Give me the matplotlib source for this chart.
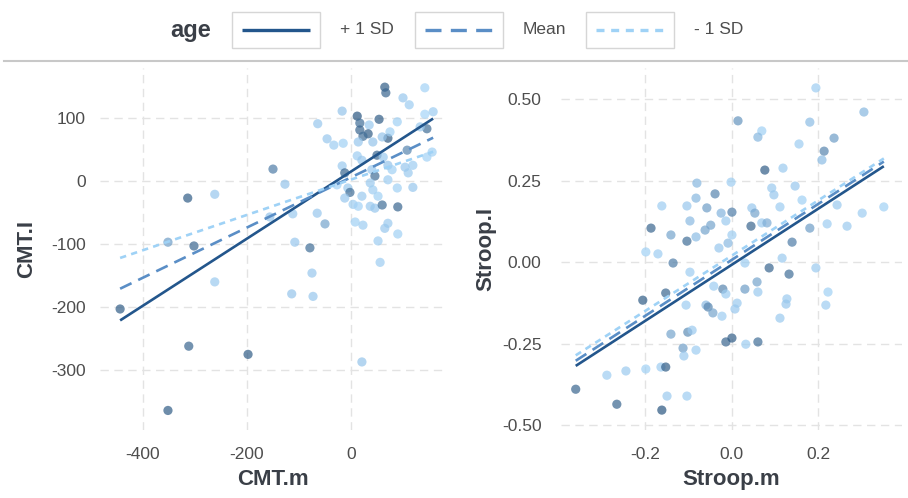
import numpy as np
import matplotlib.pyplot as plt
from matplotlib.colors import LinearSegmentedColormap
from matplotlib.patches import Rectangle
from matplotlib.lines import Line2D

plt.rcParams["font.family"] = ["Liberation Sans", "DejaVu Sans"]
plt.rcParams["axes.unicode_minus"] = False

# ---- data ----
cmt_m = [65, 67, 142, 100, 112, -17, 12, 54, 17, 35, 89, 142, 158, -64, 17, 33,
         23, 71, 60, 75, 146, 133, -46, -33, -15, 14, 42, 108, 50, 12, 21, 62,
         71, 79, 104, 119, 110, 146, 156, -150, -17, 40, 46, -12, 71, 37, 119,
         89, -27, -127, -6, -2, 42, 52, 21, -12, -314, -262, 4, 14, 37, 46, 60,
         90, -112, -65, -156, -50, 8, 23, 71, 65, 90, 52, -352, -302, -108, -79,
         56, -75, -262, -444, -114, -73, -312, -198, 21, -352]
cmt_l = [149, 140, 148, 132, 121, 111, 103, 98, 92, 89, 94, 106, 110, 91, 81, 75,
         71, 68, 70, 78, 83, 86, 67, 57, 60, 62, 62, 49, 41, 40, 33, 38, 25, 18,
         22, 25, 13, 38, 46, 19, 24, 18, 8, 13, 2, -3, -10, -11, -6, -5, -11, -18,
         -14, -24, -24, -27, -27, -21, -37, -40, -40, -43, -38, -41, -52, -51,
         -57, -68, -65, -70, -67, -75, -84, -95, -97, -103, -97, -106, -129,
         -146, -160, -203, -179, -183, -262, -275, -287, -364]
cmt_age = [1.2, 1.1, -1.0, -0.6, -0.8, -0.5, 1.3, 1.2, 1.0, -0.7, -0.9, -1.1, -0.8,
           -0.6, 1.1, 1.2, 1.0, 1.2, -0.5, -0.9, 1.0, -0.7, -0.6, -0.8, -0.9, -0.6,
           -0.5, 0.7, 1.1, -0.8, -0.6, -0.7, -0.5, -0.9, -0.6, -0.8, -0.7, -1.0,
           -0.9, 0.8, -0.7, -0.6, 1.0, 1.1, -0.8, -0.7, -0.6, -0.9, -1.0, -0.5,
           -0.7, 1.0, -0.8, -0.9, -0.7, -0.6, 1.2, -0.6, -0.8, -1.0, -0.7, -0.6,
           1.0, 1.1, -0.7, -0.6, -0.5, 0.3, -0.9, -0.8, -0.7, -0.6, -0.9, -0.8,
           0.4, 1.1, -0.6, 1.0, -0.8, -0.6, -0.7, 1.2, -0.5, -0.6, 1.1, 1.2, -0.5, 1.2]

stroop_m = [0.194, 0.305, 0.014, 0.180, 0.069, 0.060, 0.236, 0.155, 0.213, 0.208,
            0.076, 0.118, -0.081, -0.002, 0.146, 0.092, 0.097, -0.083, -0.039,
            0.162, -0.162, -0.104, -0.058, 0.111, 0.243, 0.351, -0.025, -0.014,
            0.000, 0.046, 0.053, 0.301, -0.097, 0.069, 0.081, 0.044, -0.049,
            -0.062, 0.220, 0.266, 0.180, -0.187, -0.141, -0.083, -0.104, 0.139,
            -0.009, -0.030, -0.199, -0.171, -0.136, 0.116, 0.030, 0.086, 0.132,
            0.194, -0.097, 0.058, 0.000, -0.153, -0.206, -0.042, -0.021, 0.030,
            0.060, -0.106, -0.060, -0.055, -0.044, -0.023, 0.012, 0.007, -0.014,
            0.127, 0.125, 0.222, 0.217, 0.111, -0.141, -0.102, -0.092, -0.113,
            -0.083, -0.111, -0.014, 0.000, 0.032, 0.060, -0.361, -0.289, -0.245,
            -0.199, -0.164, -0.153, -0.266, -0.150, -0.104, -0.162]
stroop_l = [0.534, 0.460, 0.433, 0.429, 0.402, 0.383, 0.380, 0.362, 0.340, 0.313,
            0.282, 0.288, 0.242, 0.245, 0.233, 0.227, 0.206, 0.196, 0.209, 0.190,
            0.172, 0.172, 0.166, 0.169, 0.175, 0.169, 0.150, 0.126, 0.153, 0.166,
            0.150, 0.150, 0.126, 0.120, 0.120, 0.110, 0.113, 0.098, 0.117, 0.110,
            0.104, 0.104, 0.083, 0.077, 0.064, 0.061, 0.058, 0.043, 0.031, 0.025,
            -0.003, 0.012, -0.003, -0.018, -0.037, -0.018, -0.031, -0.061, 0.083,
            -0.095, -0.117, -0.074, -0.083, -0.083, -0.092, -0.132, -0.132, -0.138,
            -0.156, -0.166, -0.126, -0.144, -0.098, -0.113, -0.129, -0.092, -0.132,
            -0.172, -0.221, -0.215, -0.209, -0.264, -0.270, -0.288, -0.245, -0.233,
            -0.252, -0.245, -0.390, -0.347, -0.334, -0.328, -0.322, -0.322, -0.436,
            -0.411, -0.411, -0.454]
stroop_age = [-0.8, 0.0, 0.5, -0.2, -0.9, 0.0, 0.4, -0.8, 0.7, -0.2, 1.2, -0.7,
              0.0, -0.8, -0.6, -0.7, -0.6, 0.0, 0.7, -0.9, -0.8, -0.6, 0.4, -0.8,
              -0.7, -0.9, 0.1, -0.7, 0.8, -0.6, 0.3, -0.8, -0.1, -0.7, 0.2, 1.1,
              0.3, 0.3, -0.8, -0.7, 0.4, 1.1, 0.3, -0.2, 1.0, 0.8, -0.1, -0.6,
              -0.9, -0.8, 0.8, -0.7, -0.8, 1.1, 1.0, -0.7, -0.8, 0.3, -0.8, 1.1,
              1.2, -0.8, 0.7, 0.4, -0.7, -0.8, -0.1, 0.7, 0.3, -0.8, -0.7, -0.6,
              -0.8, -0.7, -0.6, -0.9, -0.8, -0.7, 0.3, 0.6, -0.7, 0.4, -0.8, -0.7,
              1.1, 1.2, -0.8, 1.0, 1.1, -0.8, -0.7, -0.9, -0.8, 1.2, 1.1, -0.7,
              -0.8, 1.3]

# simple slopes (slope, intercept) at +1 SD, mean, -1 SD of age
age_levels = ["+ 1 SD", "Mean", "- 1 SD"]
cmt_slopes = [0.532, 0.398, 0.280]
cmt_intercepts = [15.1, 5.9, 2.3]
stroop_slopes = [0.860, 0.858, 0.848]
stroop_intercepts = [-0.008, 0.007, 0.020]

line_colors = ["#23568c", "#5a8ec6", "#9fd2f6"]
line_dashes = [None, (4.8, 2.8), (2.4, 2.0)]
cmap = LinearSegmentedColormap.from_list("age", ["#a6d5f8", "#84b4dd", "#2a5680"])

W, H = 908, 498
fig = plt.figure(figsize=(W / 100, H / 100), dpi=100)


def px_axes(x0, x1, y0, y1):
    return fig.add_axes([x0 / W, 1 - y1 / H, (x1 - x0) / W, (y1 - y0) / H])


def panel(ax, xs, ys, ages, slopes, intercepts, xticks, xlabels, yticks, ylabels,
          xlab, ylab, xlim, ylim, ypad, ylabpad):
    ax.set_xlim(*xlim)
    ax.set_ylim(*ylim)
    ax.set_xticks(xticks)
    ax.set_xticklabels(xlabels)
    ax.set_yticks(yticks)
    ax.set_yticklabels(ylabels)
    ax.grid(True, color="#e3e3e3", lw=1.0, ls=(0, (6, 4)))
    ax.set_axisbelow(True)
    for s in ax.spines.values():
        s.set_visible(False)
    ax.tick_params(length=0, labelsize=12.5, labelcolor="#4d4d4d")
    ax.tick_params(axis="x", pad=12)
    ax.tick_params(axis="y", pad=ypad)
    ax.scatter(xs, ys, c=ages, cmap=cmap, vmin=-1.1, vmax=1.3, s=44,
               alpha=0.7, linewidths=0, zorder=2)
    xr = np.array([min(xs), max(xs)])
    for k in range(3):
        ln, = ax.plot(xr, slopes[k] * xr + intercepts[k], color=line_colors[k],
                      lw=1.9, zorder=3 + k, solid_capstyle="butt")
        if line_dashes[k] is not None:
            ln.set_dashes(line_dashes[k])
    ax.set_xlabel(xlab, fontsize=16, fontweight="bold", color="#3a3f47", labelpad=5)
    ax.set_ylabel(ylab, fontsize=16, fontweight="bold", color="#3a3f47",
                  labelpad=ylabpad)


ax1 = px_axes(100, 445, 68, 430)
panel(ax1, cmt_m, cmt_l, cmt_age, cmt_slopes, cmt_intercepts,
      [-400, -200, 0], ["-400", "-200", "0"],
      [-300, -200, -100, 0, 100], ["-300", "-200", "-100", "0", "100"],
      "CMT.m", "CMT.I", (-482.7, 180.8), (-395, 179.4), 10, 10)

ax2 = px_axes(561, 902, 68, 430)
panel(ax2, stroop_m, stroop_l, stroop_age, stroop_slopes, stroop_intercepts,
      [-0.2, 0.0, 0.2], ["-0.2", "0.0", "0.2"],
      [-0.5, -0.25, 0.0, 0.25, 0.5], ["-0.50", "-0.25", "0.00", "0.25", "0.50"],
      "Stroop.m", "Stroop.I", (-0.395, 0.393), (-0.515, 0.595), 14, 4)

# ---- legend on top ----
tf = fig.transFigure
fig.text(191 / W, 1 - 31 / H, "age", ha="center", va="center", fontsize=17,
         fontweight="bold", color="#3a3f47")
key_x = [232, 415, 586]
for k in range(3):
    x0 = key_x[k]
    fig.add_artist(Rectangle((x0 / W, 1 - 48 / H), 88 / W, 36 / H, transform=tf,
                             fill=False, ec="#d6d6d6", lw=1.0))
    ln = Line2D([(x0 + 10) / W, (x0 + 78) / W], [1 - 30 / H, 1 - 30 / H],
                transform=tf, color=line_colors[k], lw=2.4, solid_capstyle="butt")
    if line_dashes[k] is not None:
        ln.set_dashes(line_dashes[k])
    fig.add_artist(ln)
    fig.text((x0 + 108) / W, 1 - 30 / H, age_levels[k], ha="left", va="center",
             fontsize=12.5, color="#4d4d4d")
fig.add_artist(Line2D([4 / W, 1], [1 - 61 / H, 1 - 61 / H], transform=tf,
                      color="#c8c8c8", lw=1.5))

fig.savefig("out.png", dpi=100)
